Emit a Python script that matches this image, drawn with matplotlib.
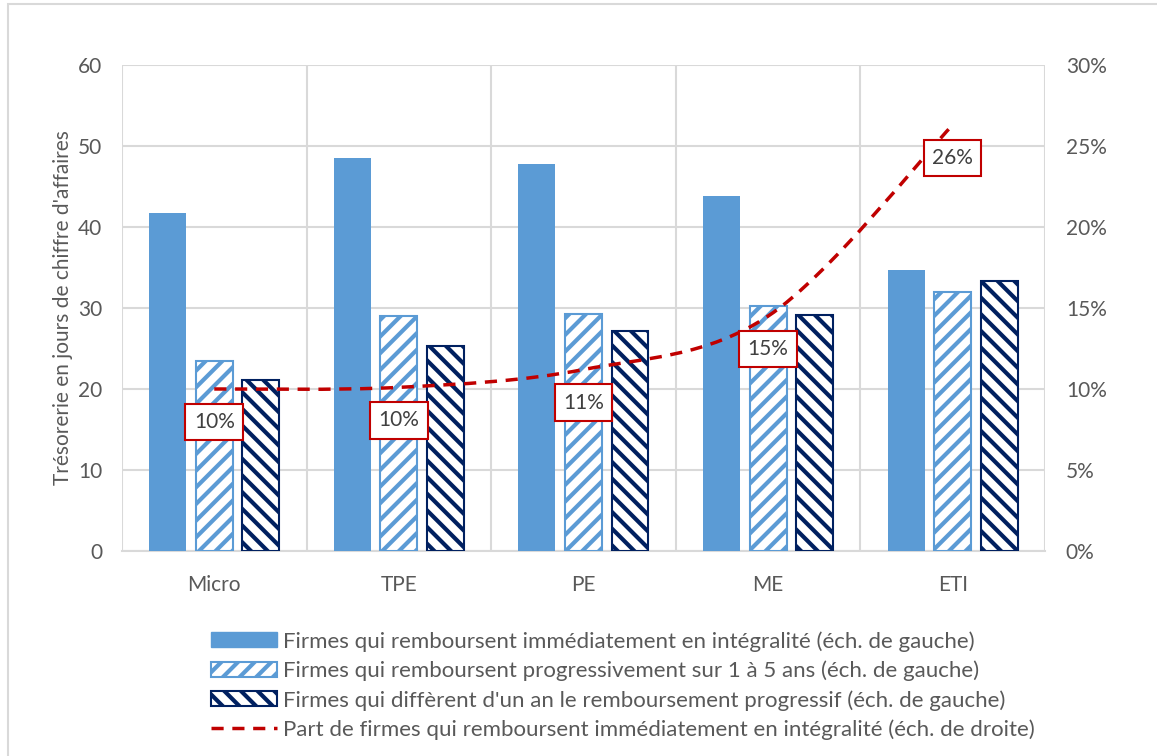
import numpy as np
import matplotlib.pyplot as plt
from matplotlib.path import Path
from matplotlib.patches import PathPatch, Patch, Rectangle
from matplotlib.lines import Line2D

categories = ['Micro', 'TPE', 'PE', 'ME', 'ETI']
immediat = [41.7, 48.5, 47.8, 43.8, 34.7]
progressif = [23.5, 29.0, 29.3, 30.2, 32.0]
differe = [21.1, 25.3, 27.2, 29.1, 33.3]
part_immediat = [10.0, 10.1, 11.2, 14.5, 26.3]
part_labels = ['10%', '10%', '11%', '15%', '26%']

legend_labels = [
    "Firmes qui remboursent immédiatement en intégralité (éch. de gauche)",
    "Firmes qui remboursent progressivement sur 1 à 5 ans (éch. de gauche)",
    "Firmes qui diffèrent d'un an le remboursement progressif (éch. de gauche)",
    "Part de firmes qui remboursent immédiatement en intégralité (éch. de droite)",
]

blue = '#5B9BD5'
navy = '#002060'
red = '#C00000'
txt = '#595959'

plt.rcParams['font.family'] = ['Lato', 'DejaVu Sans']
plt.rcParams['hatch.linewidth'] = 3.0

fig = plt.figure(figsize=(11.57, 7.56), dpi=100)
ax = fig.add_axes([0.1054, 0.2712, 0.7978, 0.6428])

x = np.arange(len(categories))
w = 0.2
off = 0.252
ax.bar(x - off, immediat, w, color=blue, zorder=3)
ax.bar(x, progressif, w, facecolor='white', edgecolor=blue, hatch='//', linewidth=1.5, zorder=3)
ax.bar(x + off, differe, w, facecolor='white', edgecolor=navy, hatch='\\\\', linewidth=1.5, zorder=3)

ax.set_xlim(-0.5, len(categories) - 0.5)
ax.set_ylim(0, 60)
ax.set_yticks(range(0, 61, 10))
ax.set_xticks(x)
ax.set_xticklabels(categories)
ax.set_xticks(np.arange(-0.5, len(categories), 1), minor=True)
ax.grid(True, which='minor', axis='x', color='#D9D9D9', linewidth=1.5, zorder=0)
ax.grid(True, which='major', axis='y', color='#D9D9D9', linewidth=1.5, zorder=0)
ax.tick_params(which='both', length=0, labelsize=15, colors=txt)
ax.tick_params(axis='x', pad=17)
ax.tick_params(axis='y', pad=14)
for s in ['top', 'left', 'right']:
    ax.spines[s].set_visible(False)
ax.spines['bottom'].set_color('#D9D9D9')
ax.spines['bottom'].set_linewidth(1.5)
ax.set_ylabel("Trésorerie en jours de chiffre d'affaires", fontsize=15, color=txt, labelpad=4)

ax2 = ax.twinx()
ax2.set_ylim(0, 30)
ax2.set_yticks(range(0, 31, 5))
ax2.set_yticklabels([f'{v}%' for v in range(0, 31, 5)])
ax2.tick_params(length=0, labelsize=15, colors=txt, pad=15)
for s in ax2.spines.values():
    s.set_visible(False)

# smoothed line (Catmull-Rom as cubic Bezier segments)
px = np.asarray(x, dtype=float)
py = np.asarray(part_immediat, dtype=float)
verts = [(px[0], py[0])]
codes = [Path.MOVETO]
n = len(px)
for i in range(n - 1):
    p0 = (px[max(i - 1, 0)], py[max(i - 1, 0)])
    p1 = (px[i], py[i])
    p2 = (px[i + 1], py[i + 1])
    p3 = (px[min(i + 2, n - 1)], py[min(i + 2, n - 1)])
    c1 = (p1[0] + (p2[0] - p0[0]) / 6, p1[1] + (p2[1] - p0[1]) / 6)
    c2 = (p2[0] - (p3[0] - p1[0]) / 6, p2[1] - (p3[1] - p1[1]) / 6)
    verts += [c1, c2, p2]
    codes += [Path.CURVE4] * 3
ax2.add_patch(PathPatch(Path(verts, codes), facecolor='none', edgecolor=red,
                        linewidth=2.5, linestyle=(0, (3.5, 2.5)), zorder=4))

for xi, yi, lab in zip(px, py, part_labels):
    ax2.annotate(lab, (xi, yi), xytext=(0, -33), textcoords='offset pixels',
                 ha='center', va='center', fontsize=15, color='#404040', zorder=6,
                 bbox=dict(boxstyle='square,pad=0.4', facecolor='white', edgecolor=red, linewidth=1.5))

handles = [
    Patch(facecolor=blue, edgecolor=blue),
    Patch(facecolor='white', edgecolor=blue, hatch='//', linewidth=1.5),
    Patch(facecolor='white', edgecolor=navy, hatch='\\\\', linewidth=1.5),
    Line2D([0], [0], color=red, linewidth=2.5, linestyle=(0, (3.5, 2.5))),
]
fig.legend(handles, legend_labels, loc='upper left', bbox_to_anchor=(0.173, 0.180),
           frameon=False, fontsize=16, labelcolor=txt, handlelength=2.95,
           handleheight=0.65, handletextpad=0.3, labelspacing=0.4, borderpad=0)

fig.add_artist(Rectangle((0.007, -0.01), 1.0, 1.005, transform=fig.transFigure,
                         facecolor='none', edgecolor='#D9D9D9', linewidth=1.5))

fig.savefig('out.png', dpi=100)
